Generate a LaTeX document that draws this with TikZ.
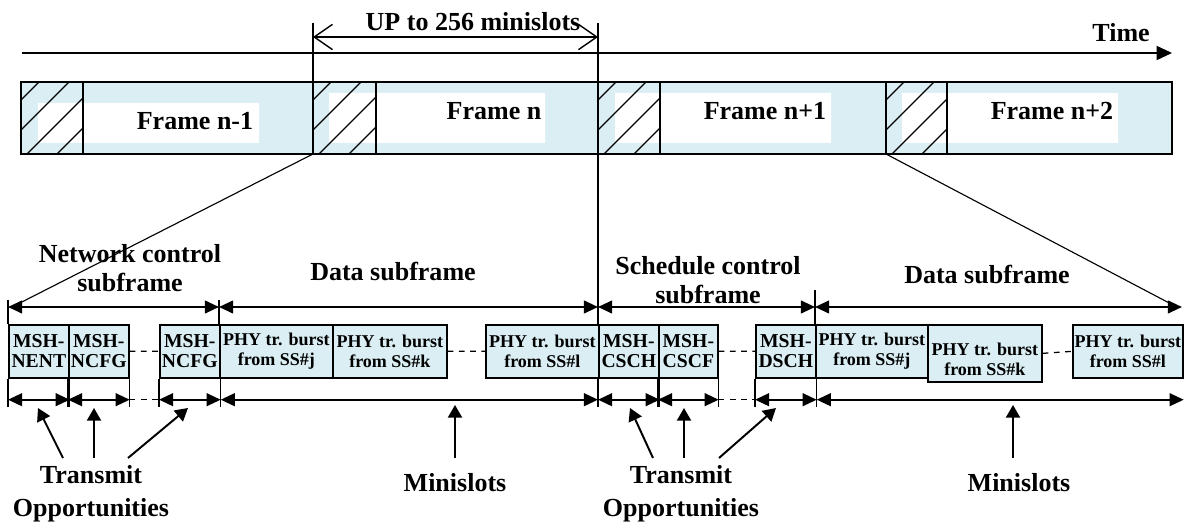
\documentclass[tikz,border=0pt]{standalone}
\usepackage{fontspec}
\setmainfont{Liberation Serif}
\usetikzlibrary{arrows.meta,calc}
\definecolor{lblue}{RGB}{218,238,243}

\tikzset{
  big/.style={font=\fontsize{18.5}{20.5}\selectfont\bfseries,inner sep=0pt,align=center},
  slot/.style={draw,fill=lblue,line width=1.2pt,inner sep=0pt,minimum height=1.325cm,
    anchor=north west,align=center,font=\fontsize{14}{14.2}\selectfont\bfseries},
  phy/.style={slot,font=\fontsize{12.8}{14.2}\selectfont\bfseries},
  dim/.style={line width=1.5pt,{Triangle[length=10pt,width=9pt]}-{Triangle[length=10pt,width=9pt]}},
  ptr/.style={line width=1.4pt,-{Triangle[length=9pt,width=10pt]}},
  gap/.style={line width=0.9pt,dash pattern=on 4pt off 4pt},
  tick/.style={line width=0.8pt}
}

\begin{document}
\begin{tikzpicture}[x=0.025cm,y=-0.025cm]
      \useasboundingbox (0,0) rectangle (1184,524);
      % time axis
      \coordinate (t0) at (22,53);
      \coordinate (t1) at (1172,53);
      \draw[line width=1.3pt,-{Triangle[length=11pt,width=10pt]}] (t0)--(t1);
      \node[big,anchor=east] (time) at (1150,33) {Time};
      % frames
      \filldraw[fill=lblue,line width=1.2pt] (21,82) rectangle (1172,154);
      \fill[white] (38,103) rectangle (259,143) (329,93) rectangle (545,143)
                   (615,93) rectangle (831,143) (902,93) rectangle (1118,143);
      \foreach \l/\r in {21/83,313/376,598/660,886/947}{
        \begin{scope}
          \clip (\l,82) rectangle (\r,154);
          \foreach \o in {18,48,78,108}
            \draw[line width=0.9pt] (\l+\o,82)--++(-90,90);
        \end{scope}
        \draw[tick] (\r,82)--(\r,154);
      }
      \node[big] (fa) at (195,121) {Frame n-1};
      \node[big] (fb) at (494,111) {Frame n};
      \node[big] (fc) at (765,111) {Frame n+1};
      \node[big] (fd) at (1052,111) {Frame n+2};
      \coordinate (a0) at (313,23);
      \coordinate (a1) at (313,154);
      \coordinate (b0) at (598,23);
      \coordinate (b1) at (598,405);
      \coordinate (c1) at (886,154);
      \draw[tick] (a0)--(a1) (b0)--(b1) (c1)--(886,82);
      % up to 256
      \coordinate (u0) at (313,37);
      \coordinate (u1) at (598,37);
      \draw[line width=1pt,{Straight Barb[length=13pt,width=18pt]}-{Straight Barb[length=13pt,width=18pt]}] (u0)--(u1);
      \node[big] (up) at (473,22) {UP to 256 minislots};
      % subframes
      \coordinate (s0) at (8,307);
      \coordinate (s1) at (219,307);
      \coordinate (s2) at (598,307);
      \coordinate (s3) at (815,307);
      \coordinate (s4) at (1182,307);
      \draw[tick] (a1)--(12,307) (c1)--(1173,305);
      \draw[tick] (8,300)--(8,324) (219,300)--(219,324) (815,290)--(815,324);
      \draw[dim] (s0)--(s1);
      \draw[dim] (s1)--(s2);
      \draw[dim] (s2)--(s3);
      \draw[dim] (s3)--(s4);
      \node[big] (ncs) at (130,268) {Network control\\subframe};
      \node[big] (dsa) at (393,272) {Data subframe};
      \node[big] (scs) at (708,280) {Schedule control\\subframe};
      \node[big] (dsb) at (987,275) {Data subframe};
      % slots
      \node[slot,minimum width=1.5cm] (nent) at (8,324) {MSH-\\NENT};
      \node[slot,minimum width=1.5cm] (ncfga) at (68,324) {MSH-\\NCFG};
      \node[slot,minimum width=1.5cm] (ncfgb) at (159,324) {MSH-\\NCFG};
      \node[phy,minimum width=2.825cm] (phyj) at (219,324) {PHY tr. burst\\from SS\#j};
      \node[phy,minimum width=2.85cm] (phyk) at (332,324) {PHY tr. burst\\from SS\#k};
      \node[phy,minimum width=2.825cm] (phyl) at (485,324) {PHY tr. burst\\from SS\#l};
      \node[slot,minimum width=1.5cm] (csch) at (598,324) {MSH-\\CSCH};
      \node[slot,minimum width=1.475cm] (cscf) at (658,324) {MSH-\\CSCF};
      \node[slot,minimum width=1.5cm] (dsch) at (755,324) {MSH-\\DSCH};
      \node[phy,minimum width=2.8cm] (phyjb) at (815,324) {PHY tr. burst\\from SS\#j};
      \node[phy,minimum width=2.85cm,minimum height=1.425cm] (phykb) at (927,324) {};
      \node[phy,draw=none,fill=none,minimum height=0pt,anchor=center] (phykt) at ($(phykb.center)+(0,6)$) {PHY tr. burst\\from SS\#k};
      \node[phy,minimum width=2.75cm] (phylb) at (1072,324) {PHY tr. burst\\from SS\#l};
      \draw[gap] (ncfga.east)--(ncfgb.west) (phyk.east)--(phyl.west)
                 (cscf.east)--(dsch.west) (phykb.east)--(phylb.west);
      % transmit opportunities and minislots
      \foreach \b in {nent,ncfga,ncfgb,csch,cscf,dsch}{
        \draw[tick] (\b.south west)--++(0,28) (\b.south east)--++(0,28);
        \coordinate (\b-l) at ($(\b.south west)+(0,21)$);
        \coordinate (\b-r) at ($(\b.south east)+(0,21)$);
        \draw[dim] (\b-l)--(\b-r);
      }
      \coordinate (phylb-r) at ($(phylb.south east)+(0,21)$);
      \draw[dim] (ncfgb-r)--(csch-l);
      \draw[dim] (dsch-r)--(phylb-r);
      \draw[gap] (ncfga-r)--(ncfgb-l) (cscf-r)--(dsch-l);
      \node[big,font=\fontsize{18.5}{23.5}\selectfont\bfseries] (toa) at (91,494) {Transmit\\Opportunities};
      \node[big,font=\fontsize{18.5}{23.5}\selectfont\bfseries] (tob) at (681,494) {Transmit\\Opportunities};
      \node[big] (msa) at (455,483) {Minislots};
      \node[big] (msb) at (1019,483) {Minislots};
      \coordinate (pa) at (63,458);   \coordinate (qa) at (38,408);
      \coordinate (pb) at (94,458);   \coordinate (qb) at (94,408);
      \coordinate (pc) at (128,458);  \coordinate (qc) at (188,408);
      \coordinate (pd) at (455,458);  \coordinate (qd) at (455,405);
      \coordinate (pe) at (653,458);  \coordinate (qe) at (630,408);
      \coordinate (pf) at (684,458);  \coordinate (qf) at (684,408);
      \coordinate (pg) at (719,458);  \coordinate (qg) at (776,408);
      \coordinate (ph) at (1013,458); \coordinate (qh) at (1013,405);
      \foreach \i in {a,b,c,d,e,f,g,h}
        \draw[ptr] (p\i)--(q\i);
\end{tikzpicture}
\end{document}
